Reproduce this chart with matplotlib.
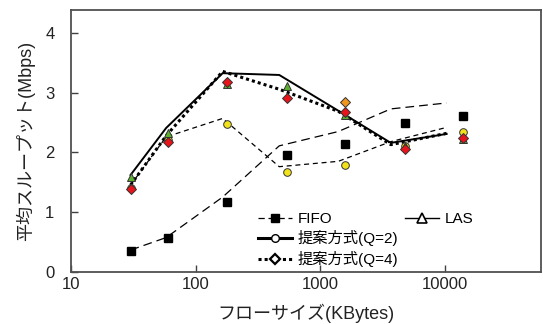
import matplotlib
matplotlib.use("Agg")
import matplotlib.pyplot as plt
from matplotlib.lines import Line2D

plt.rcParams['font.family'] = ['Liberation Sans', 'Noto Sans CJK JP', 'DejaVu Sans']

# measured points (markers)
pt_x = [30, 60, 180, 540, 1600, 4800, 14000]
fifo_pt = [0.35, 0.56, 1.16, 1.95, 2.14, 2.50, 2.61]
q2_pt = [1.40, 2.20, 2.48, 1.67, 1.78, 2.10, 2.34]
las_pt = [1.58, 2.32, 3.15, 3.12, 2.63, 2.11, 2.22]
q4_pt = [1.39, 2.17, 3.18, 2.92, 2.68, 2.05, 2.24]
extra_x = [1600]
extra_y = [2.85]

# model curves (lines)
line_x = [30, 58, 165, 470, 1400, 3700, 10400]
fifo_line = [0.36, 0.57, 1.25, 2.11, 2.35, 2.73, 2.83]
q2_line = [1.45, 2.26, 2.57, 1.76, 1.85, 2.18, 2.42]
las_line = [1.62, 2.41, 3.33, 3.30, 2.70, 2.16, 2.31]
q4_line = [1.45, 2.28, 3.36, 3.06, 2.69, 2.13, 2.32]

xticks = [10, 100, 1000, 10000]
yticks = [0, 1, 2, 3, 4]

fig = plt.figure(figsize=(5.43, 3.24), dpi=100)
ax = fig.add_axes([0.131, 0.162, 0.866, 0.807])

ax.plot(line_x, fifo_line, color='black', lw=0.9, ls=(0, (7, 4)), zorder=2)
ax.plot(line_x, q2_line, color='black', lw=0.9, ls=(0, (4, 3)), zorder=2)
ax.plot(line_x, las_line, color='black', lw=1.4, ls='-', zorder=2)
ax.plot(line_x, q4_line, color='black', lw=2.2, ls=(0, (1, 1)), zorder=2)

ax.plot(pt_x, fifo_pt, ls='none', marker='s', ms=5.5, mfc='black', mec='black', zorder=3)
ax.plot(pt_x, q2_pt, ls='none', marker='o', ms=5.5, mfc='#f2e21c', mec='#333333', mew=0.7, zorder=4)
ax.plot(pt_x, las_pt, ls='none', marker='^', ms=6, mfc='#5cb030', mec='#333333', mew=0.7, zorder=5)
ax.plot(pt_x, q4_pt, ls='none', marker='D', ms=5, mfc='#e8141c', mec='#333333', mew=0.7, zorder=6)
ax.plot(extra_x, extra_y, ls='none', marker='D', ms=5, mfc='#f0961e', mec='#333333', mew=0.7, zorder=6)

ax.set_xscale('log')
ax.set_xlim(10, 60000)
ax.set_ylim(0, 4.39)
ax.set_xticks(xticks)
ax.set_xticklabels([str(v) for v in xticks])
ax.set_yticks(yticks)
ax.minorticks_off()
ax.tick_params(direction='in', length=5, width=1, colors='#404040', labelcolor='#222222',
               labelsize=12)
ax.tick_params(axis='y', pad=12)
ax.tick_params(axis='x', pad=4)
for s in ax.spines.values():
    s.set_color('#505050')
    s.set_linewidth(1.3)

ax.set_xlabel('フローサイズ(KBytes)', fontsize=13, color='#222222', labelpad=8)
ax.set_ylabel('平均スループット(Mbps)', fontsize=13, color='#222222', labelpad=7)

h_fifo = Line2D([], [], color='black', lw=0.9, ls=(0, (5, 3)), marker='s', ms=6, mfc='black', mec='black')
h_q2 = Line2D([], [], color='black', lw=2.2, ls='-', marker='o', ms=5.5, mfc='white', mec='black', mew=1)
h_q4 = Line2D([], [], color='black', lw=2.2, ls=(0, (1, 1)), marker='D', ms=5.5, mfc='white', mec='black', mew=1.6)
h_las = Line2D([], [], color='black', lw=1, ls='-', marker='^', ms=6.5, mfc='white', mec='black', mew=1.2)

leg1 = ax.legend([h_fifo, h_q2, h_q4], ['FIFO', '提案方式(Q=2)', '提案方式(Q=4)'],
                 loc='upper left', bbox_to_anchor=(0.398, 0.228), frameon=False,
                 fontsize=11, handlelength=2.2, handletextpad=0.4, labelspacing=0.3,
                 borderpad=0, borderaxespad=0)
ax.add_artist(leg1)
ax.legend([h_las], ['LAS'], loc='upper left', bbox_to_anchor=(0.710, 0.228), frameon=False,
          fontsize=11, handlelength=2.2, handletextpad=0.4, borderpad=0, borderaxespad=0)

fig.savefig('out.png', dpi=100)
